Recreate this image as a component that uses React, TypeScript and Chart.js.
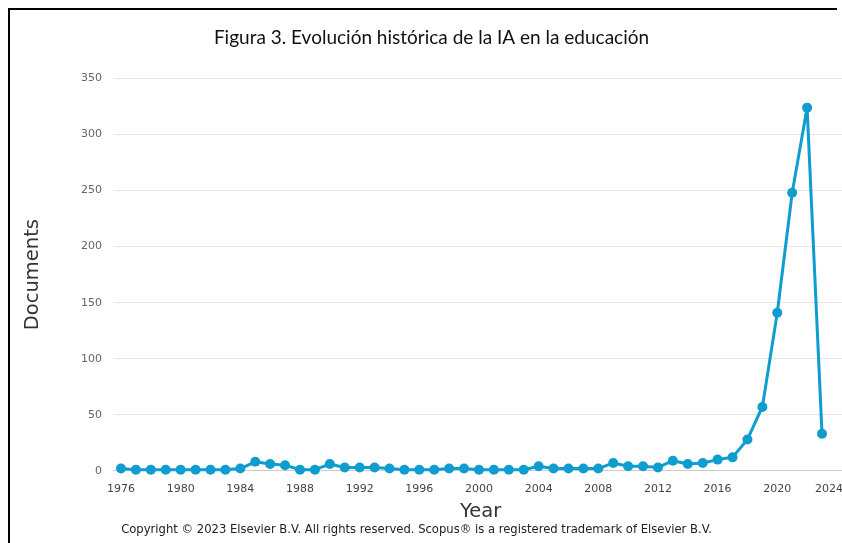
import React, { useEffect, useRef } from "react";
import { Chart, registerables } from "chart.js";

Chart.register(...registerables);

const years: number[] = [
  1976, 1977, 1978, 1979, 1980, 1981, 1982, 1983, 1984, 1985,
  1986, 1987, 1988, 1989, 1990, 1991, 1992, 1993, 1994, 1995,
  1996, 1997, 1998, 1999, 2000, 2001, 2002, 2003, 2004, 2005,
  2006, 2007, 2008, 2009, 2010, 2011, 2012, 2013, 2014, 2015,
  2016, 2017, 2018, 2019, 2020, 2021, 2022, 2023,
];

const documents: number[] = [
  2, 1, 1, 1, 1, 1, 1, 1, 2, 8,
  6, 5, 1, 1, 6, 3, 3, 3, 2, 1,
  1, 1, 2, 2, 1, 1, 1, 1, 4, 2,
  2, 2, 2, 7, 4, 4, 3, 9, 6, 7,
  10, 12, 28, 57, 141, 248, 324, 33,
];

const xTicks: number[] = [1976, 1980, 1984, 1988, 1992, 1996, 2000, 2004, 2008, 2012, 2016, 2020, 2024];
const yTicks: number[] = [0, 50, 100, 150, 200, 250, 300, 350];

const titleText = "Figura 3. Evolución histórica de la IA en la educación";
const xTitle = "Year";
const yTitle = "Documents";
const copyrightText =
  "Copyright © 2023 Elsevier B.V. All rights reserved. Scopus® is a registered trademark of Elsevier B.V.";

const LINE_COLOR = "#0f9dcf";

const shiftLastLabel = {
  id: "shiftLastLabel",
  beforeDraw(chart: any) {
    const s: any = chart.scales.x;
    if (!s || !s.getLabelItems) return;
    const items = s.getLabelItems();
    if (items && items.length) {
      const it = items[items.length - 1];
      if (it && it.options && it.options.translation && !it._shifted) {
        it.options.translation[0] -= 8;
        it._shifted = true;
      }
    }
  },
};

export default function App() {
  const ref = useRef<HTMLCanvasElement | null>(null);

  useEffect(() => {
    if (!ref.current) return;
    Chart.defaults.font.family = "'DejaVu Sans', sans-serif";
    const chart = new Chart(ref.current, {
      type: "line",
      data: {
        datasets: [
          {
            label: yTitle,
            data: years.map((y, i) => ({ x: y, y: documents[i] })),
            borderColor: LINE_COLOR,
            backgroundColor: LINE_COLOR,
            pointBackgroundColor: LINE_COLOR,
            pointBorderColor: LINE_COLOR,
            pointBorderWidth: 0,
            pointRadius: 5,
            borderWidth: 3,
            borderJoinStyle: "round",
            borderCapStyle: "round",
            tension: 0,
            clip: false as any,
          },
        ],
      },
      options: {
        responsive: false,
        animation: false,
        layout: { padding: { left: -10, right: 0, top: 0, bottom: 19.6 } },
        plugins: {
          legend: { display: false },
          tooltip: { enabled: false },
          title: {
            display: true,
            text: titleText,
            color: "#111111",
            font: { family: "Lato", size: 19, weight: "normal" },
            padding: { top: 16.5, bottom: 29.2 },
          },
        },
        scales: {
          x: {
            type: "linear",
            min: 1975.53,
            max: 2024.68,
            afterBuildTicks: (scale: any) => {
              scale.ticks = xTicks.map((v) => ({ value: v }));
            },
            ticks: {
              autoSkip: false,
              maxRotation: 0,
              padding: 12,
              color: "#444444",
              font: { size: 11 },
              callback: (v: any) => String(v),
            },
            grid: { display: false, drawTicks: false },
            border: { display: true, color: "#cccccc", width: 1 },
            title: {
              display: true,
              text: xTitle,
              color: "#333333",
              font: { size: 19.5 },
              padding: { top: -8, bottom: 0 },
            },
          },
          y: {
            type: "linear",
            min: 0,
            max: 350,
            afterBuildTicks: (scale: any) => {
              scale.ticks = yTicks.map((v) => ({ value: v }));
            },
            ticks: {
              padding: 12,
              color: "#666666",
              font: { size: 11 },
              callback: (v: any) => String(v),
            },
            grid: { display: true, color: "#e6e6e6", lineWidth: 1, drawTicks: false },
            border: { display: false },
            title: {
              display: true,
              text: yTitle,
              color: "#333333",
              font: { size: 19.5 },
              padding: { top: 21.3, bottom: 24.3 },
            },
          },
        },
      },
      plugins: [shiftLastLabel],
    } as any);
    return () => chart.destroy();
  }, []);

  return (
    <div
      style={{
        position: "fixed",
        left: 0,
        top: 0,
        width: 842,
        height: 543,
        overflow: "hidden",
        background: "#ffffff",
      }}
    >
      <div
        style={{
          position: "absolute",
          left: 8,
          top: 8,
          width: 829,
          height: 600,
          borderLeft: "2px solid #000",
          borderTop: "2px solid #000",
          boxSizing: "border-box",
        }}
      />
      <canvas
        ref={ref}
        width={853}
        height={533}
        style={{ position: "absolute", left: 10, top: 10, width: 853, height: 533 }}
      />
      <div
        style={{
          position: "absolute",
          left: 0,
          top: 522,
          width: 833,
          textAlign: "center",
          fontFamily: "'DejaVu Sans', sans-serif",
          fontSize: 11.6,
          lineHeight: "14px",
          color: "#222222",
          whiteSpace: "nowrap",
        }}
      >
        {copyrightText}
      </div>
    </div>
  );
}
